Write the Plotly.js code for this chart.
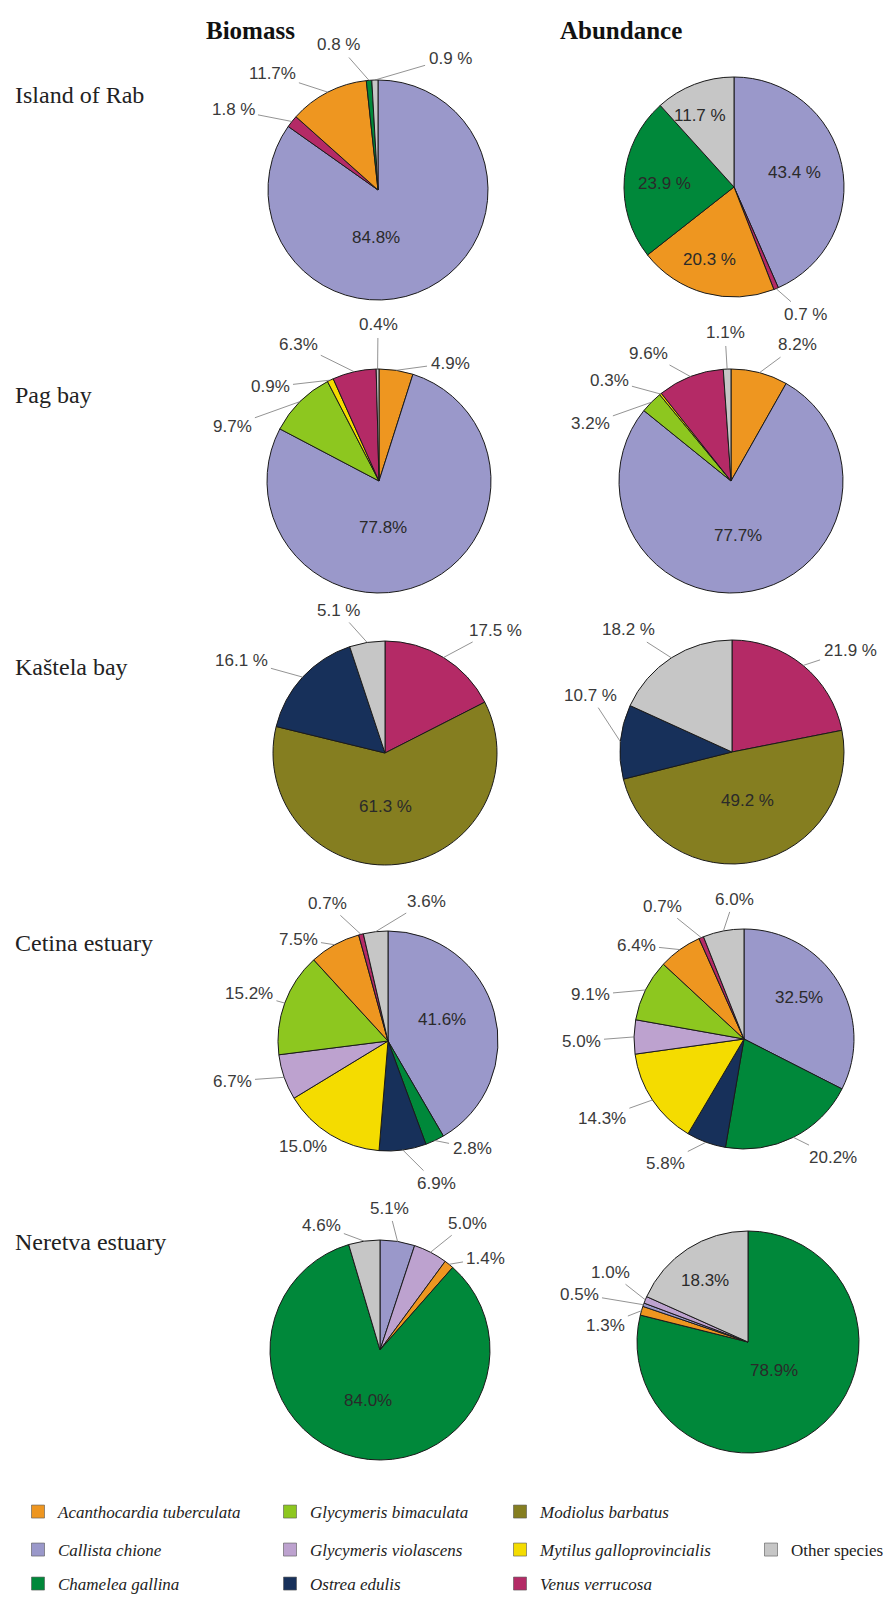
<!DOCTYPE html>
<html>
<head>
<meta charset="utf-8">
<script src="https://cdn.plot.ly/plotly-3.0.1.min.js"></script>
<style>html,body{margin:0;padding:0;background:#fff;}#chart{width:895px;height:1600px;}</style>
</head>
<body>
<div id="chart"></div>
<script>
// ---------------- DATA ----------------
const species = ['Acanthocardia tuberculata','Callista chione','Chamelea gallina',
  'Glycymeris bimaculata','Glycymeris violascens','Modiolus barbatus',
  'Mytilus galloprovincialis','Ostrea edulis','Venus verrucosa','Other species'];
const sites = ['Island of Rab','Pag bay','Kaštela bay','Cetina estuary','Neretva estuary'];
const columnTitles = ['Biomass','Abundance'];

// Island of Rab
const rabBioLabels = ['Callista chione','Venus verrucosa','Acanthocardia tuberculata','Chamelea gallina','Other species'];
const rabBioValues = [84.8, 1.8, 11.7, 0.8, 0.9];
const rabBioText   = ['84.8%','1.8 %','11.7%','0.8 %','0.9 %'];
const rabAbuLabels = ['Callista chione','Venus verrucosa','Acanthocardia tuberculata','Chamelea gallina','Other species'];
const rabAbuValues = [43.4, 0.7, 20.3, 23.9, 11.7];
const rabAbuText   = ['43.4 %','0.7 %','20.3 %','23.9 %','11.7 %'];
// Pag bay
const pagBioLabels = ['Acanthocardia tuberculata','Callista chione','Glycymeris bimaculata','Mytilus galloprovincialis','Venus verrucosa','Other species'];
const pagBioValues = [4.9, 77.8, 9.7, 0.9, 6.3, 0.4];
const pagBioText   = ['4.9%','77.8%','9.7%','0.9%','6.3%','0.4%'];
const pagAbuLabels = ['Acanthocardia tuberculata','Callista chione','Glycymeris bimaculata','Mytilus galloprovincialis','Venus verrucosa','Other species'];
const pagAbuValues = [8.2, 77.7, 3.2, 0.3, 9.6, 1.1];
const pagAbuText   = ['8.2%','77.7%','3.2%','0.3%','9.6%','1.1%'];
// Kaštela bay
const kasBioLabels = ['Venus verrucosa','Modiolus barbatus','Ostrea edulis','Other species'];
const kasBioValues = [17.5, 61.3, 16.1, 5.1];
const kasBioText   = ['17.5 %','61.3 %','16.1 %','5.1 %'];
const kasAbuLabels = ['Venus verrucosa','Modiolus barbatus','Ostrea edulis','Other species'];
const kasAbuValues = [21.9, 49.2, 10.7, 18.2];
const kasAbuText   = ['21.9 %','49.2 %','10.7 %','18.2 %'];
// Cetina estuary
const cetBioLabels = ['Callista chione','Chamelea gallina','Ostrea edulis','Mytilus galloprovincialis','Glycymeris violascens','Glycymeris bimaculata','Acanthocardia tuberculata','Venus verrucosa','Other species'];
const cetBioValues = [41.6, 2.8, 6.9, 15.0, 6.7, 15.2, 7.5, 0.7, 3.6];
const cetBioText   = ['41.6%','2.8%','6.9%','15.0%','6.7%','15.2%','7.5%','0.7%','3.6%'];
const cetAbuLabels = ['Callista chione','Chamelea gallina','Ostrea edulis','Mytilus galloprovincialis','Glycymeris violascens','Glycymeris bimaculata','Acanthocardia tuberculata','Venus verrucosa','Other species'];
const cetAbuValues = [32.5, 20.2, 5.8, 14.3, 5.0, 9.1, 6.4, 0.7, 6.0];
const cetAbuText   = ['32.5%','20.2%','5.8%','14.3%','5.0%','9.1%','6.4%','0.7%','6.0%'];
// Neretva estuary
const nerBioLabels = ['Callista chione','Glycymeris violascens','Acanthocardia tuberculata','Chamelea gallina','Other species'];
const nerBioValues = [5.1, 5.0, 1.4, 84.0, 4.6];
const nerBioText   = ['5.1%','5.0%','1.4%','84.0%','4.6%'];
const nerAbuLabels = ['Chamelea gallina','Acanthocardia tuberculata','Callista chione','Glycymeris violascens','Other species'];
const nerAbuValues = [78.9, 1.3, 0.5, 1.0, 18.3];
const nerAbuText   = ['78.9%','1.3%','0.5%','1.0%','18.3%'];

// ---------------- STYLE / LAYOUT ----------------
const W = 895, H = 1600;
const colorOf = {
  'Acanthocardia tuberculata':'#EE9620',
  'Callista chione':'#9A98CA',
  'Chamelea gallina':'#00883A',
  'Glycymeris bimaculata':'#8DC71F',
  'Glycymeris violascens':'#BDA2CF',
  'Modiolus barbatus':'#857E20',
  'Mytilus galloprovincialis':'#F4DC00',
  'Ostrea edulis':'#17305A',
  'Venus verrucosa':'#B42A66',
  'Other species':'#C6C6C6'
};
const A = 'Acanthocardia tuberculata', C = 'Callista chione', G = 'Chamelea gallina',
      GB = 'Glycymeris bimaculata', GV = 'Glycymeris violascens', M = 'Modiolus barbatus',
      MY = 'Mytilus galloprovincialis', O = 'Ostrea edulis', V = 'Venus verrucosa', OT = 'Other species';
// pie placement (pixel centre, radius); label placement in pixels:
// 'in' = labels drawn on the slice, 'lab' = outside labels with a leader line to the slice
const pies = [
  {labels:rabBioLabels, values:rabBioValues, text:rabBioText, c:[378,190], r:110,
   in:{[C]:[376,238]},
   lab:{[V]:[233,110],[A]:[272,74],[G]:[338,45],[OT]:[450,58]}},
  {labels:rabAbuLabels, values:rabAbuValues, text:rabAbuText, c:[734,187], r:110,
   in:{[C]:[794,172],[A]:[709,259],[G]:[664,183],[OT]:[700,115]},
   lab:{[V]:[805,314]}},
  {labels:pagBioLabels, values:pagBioValues, text:pagBioText, c:[379,481], r:112,
   in:{[C]:[383,527]},
   lab:{[A]:[450,363],[GB]:[232,426],[MY]:[270,387],[V]:[298,344],[OT]:[378,325]}},
  {labels:pagAbuLabels, values:pagAbuValues, text:pagAbuText, c:[731,481], r:112,
   in:{[C]:[738,535]},
   lab:{[A]:[797,345],[GB]:[590,424],[MY]:[609,380],[V]:[648,353],[OT]:[725,333]}},
  {labels:kasBioLabels, values:kasBioValues, text:kasBioText, c:[385,753], r:112,
   in:{[M]:[385,806]},
   lab:{[V]:[495,630],[O]:[241,660],[OT]:[338,610]}},
  {labels:kasAbuLabels, values:kasAbuValues, text:kasAbuText, c:[732,752], r:112,
   in:{[M]:[747,800]},
   lab:{[V]:[850,650],[O]:[590,695],[OT]:[628,630]}},
  {labels:cetBioLabels, values:cetBioValues, text:cetBioText, c:[388,1041], r:110,
   in:{[C]:[442,1020]},
   lab:{[G]:[472,1148],[O]:[436,1183],[MY]:[303,1146],[GV]:[232,1081],[GB]:[249,993],[A]:[298,939],[V]:[327,903],[OT]:[426,901]}},
  {labels:cetAbuLabels, values:cetAbuValues, text:cetAbuText, c:[744,1039], r:110,
   in:{[C]:[799,997]},
   lab:{[G]:[833,1157],[O]:[665,1163],[MY]:[602,1118],[GV]:[581,1041],[GB]:[590,995],[A]:[636,945],[V]:[662,906],[OT]:[734,899]}},
  {labels:nerBioLabels, values:nerBioValues, text:nerBioText, c:[380,1350], r:110,
   in:{[G]:[368,1400]},
   lab:{[C]:[389,1208],[GV]:[467,1223],[A]:[486,1258],[OT]:[321,1225]}},
  {labels:nerAbuLabels, values:nerAbuValues, text:nerAbuText, c:[748,1342], r:111,
   in:{[G]:[774,1370],[OT]:[705,1280]},
   lab:{[A]:[605,1325],[C]:[579,1294],[GV]:[610,1272]}}
];
const siteY = [95, 395, 667, 943, 1242];
const titleX = [251, 621], titleY = 30;
const labelFont = {family:'Liberation Sans, Arial, sans-serif', size:17, color:'#3a3a3a'};
const inFont = {family:'Liberation Sans, Arial, sans-serif', size:17, color:'#2a2a2a'};

const traces = [];
const annotations = [];
pies.forEach(p => {
  traces.push({
    type:'pie', sort:false, direction:'clockwise', rotation:0,
    labels:p.labels, values:p.values, textinfo:'none',
    marker:{colors:p.labels.map(l => colorOf[l]), line:{color:'#1a1a1a', width:1}},
    showlegend:false, hoverinfo:'skip',
    domain:{x:[(p.c[0]-p.r)/W, (p.c[0]+p.r)/W], y:[1-(p.c[1]+p.r)/H, 1-(p.c[1]-p.r)/H]}
  });
  const total = p.values.reduce((a, b) => a + b, 0);
  let cum = 0;
  p.values.forEach((v, i) => {
    const mid = (cum + v / 2) / total * 2 * Math.PI;
    cum += v;
    const name = p.labels[i];
    if (p.in[name]) {
      const ip = p.in[name];
      annotations.push({xref:'paper', yref:'paper', x:ip[0] / W, y:1 - ip[1] / H,
        xanchor:'center', yanchor:'middle', text:p.text[i], showarrow:false, font:inFont});
      return;
    }
    // leader line from the label to the middle of the slice's arc
    const tx = p.c[0] + p.r * Math.sin(mid), ty = p.c[1] - p.r * Math.cos(mid);
    const lp = p.lab[name];
    annotations.push({
      xref:'paper', yref:'paper', x:tx / W, y:1 - ty / H,
      ax:lp[0] - tx, ay:lp[1] - ty, axref:'pixel', ayref:'pixel',
      text:p.text[i], showarrow:true, arrowhead:0, arrowwidth:0.8, arrowcolor:'#777',
      standoff:0, startstandoff:2, font:labelFont
    });
  });
});

// legend grid (column, row) per species
const legendCell = {
  [A]:[0,0], [C]:[0,1], [G]:[0,2], [GB]:[1,0], [GV]:[1,1], [O]:[1,2],
  [M]:[2,0], [MY]:[2,1], [V]:[2,2], [OT]:[3,1]
};
const legColX = [38, 290, 520, 771];
const legRowY = [1512, 1550, 1584];

const layout = {
  width:W, height:H, margin:{l:0,r:0,t:0,b:0,autoexpand:false},
  paper_bgcolor:'#fff', plot_bgcolor:'#fff',
  xaxis:{visible:false, range:[0,1]}, yaxis:{visible:false, range:[0,1]},
  annotations:annotations, showlegend:true
};
species.forEach((s, i) => {
  const key = i === 0 ? 'legend' : 'legend' + (i + 1);
  const cell = legendCell[s];
  traces.push({
    type:'scatter', mode:'markers', x:[null], y:[null], name:s,
    legend:key, showlegend:true, hoverinfo:'skip',
    marker:{symbol:'square', size:13, color:colorOf[s], line:{color:'#555', width:0.6}}
  });
  layout[key] = {
    x:(legColX[cell[0]] - 20)/W, y:1 - legRowY[cell[1]]/H,
    xanchor:'left', yanchor:'middle', bgcolor:'rgba(0,0,0,0)', borderwidth:0,
    font:{family:'Liberation Serif, Times New Roman, serif', size:17, color:'#222',
          style: s === OT ? 'normal' : 'italic'}
  };
});

sites.forEach((s, i) => {
  annotations.push({
    xref:'paper', yref:'paper', x:13/W, y:1 - siteY[i]/H, xanchor:'left', yanchor:'middle',
    text:s, showarrow:false,
    font:{family:'Liberation Serif, Times New Roman, serif', size:24, color:'#222'}
  });
});
columnTitles.forEach((t, i) => {
  annotations.push({
    xref:'paper', yref:'paper', x:titleX[i]/W, y:1 - titleY/H, xanchor:'center', yanchor:'middle',
    text:'<b>' + t + '</b>', showarrow:false,
    font:{family:'Liberation Serif, Times New Roman, serif', size:25, color:'#111'}
  });
});

Plotly.newPlot('chart', traces, layout, {displayModeBar:false, staticPlot:true});
</script>
</body>
</html>
